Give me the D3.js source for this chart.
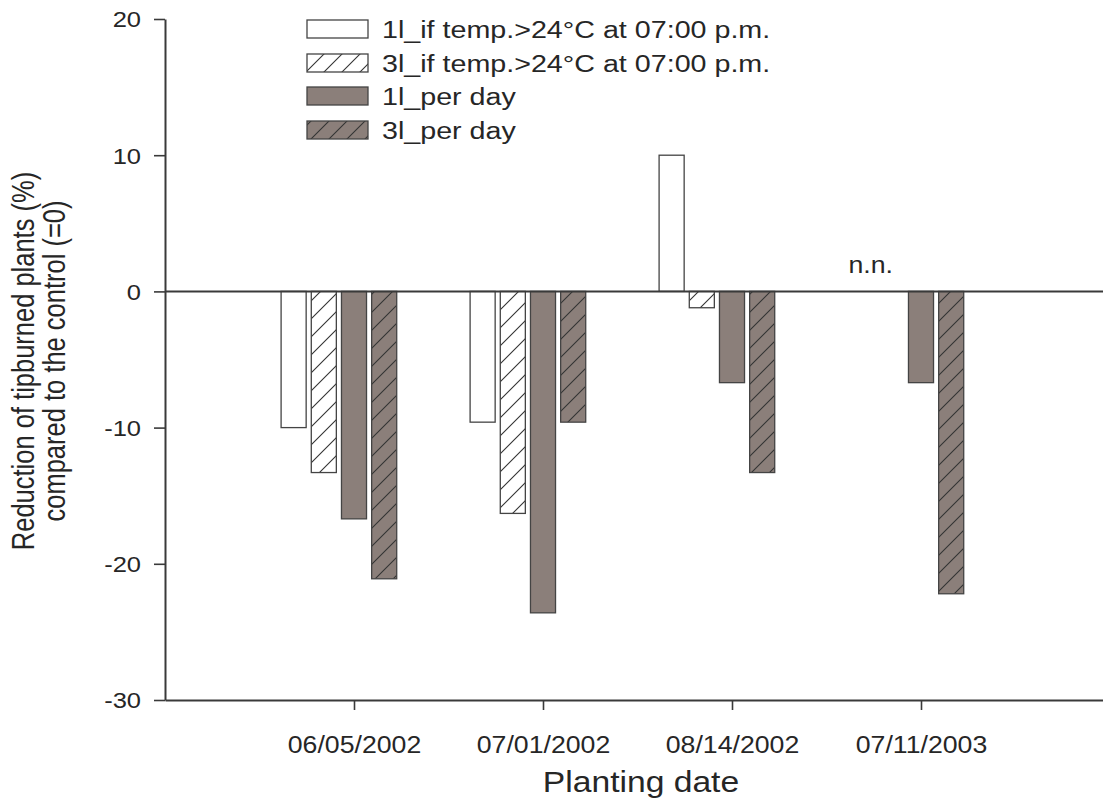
<!DOCTYPE html>
<html>
<head>
<meta charset="utf-8">
<script src="https://cdn.jsdelivr.net/npm/d3@7"></script>
<style>
  html, body { margin: 0; padding: 0; background: #fff; }
  svg { display: block; }
  text { font-family: "Liberation Sans", Arial, sans-serif; fill: #262626; }
</style>
</head>
<body>
<svg id="chart" width="1103" height="805"></svg>
<script>
// ---- data ----
const categories = ["06/05/2002", "07/01/2002", "08/14/2002", "07/11/2003"];
const seriesNames = [
  "1l_if temp.>24°C at 07:00 p.m.",
  "3l_if temp.>24°C at 07:00 p.m.",
  "1l_per day",
  "3l_per day"
];
const s1TempWhite = [-10, -9.6, 10, null];
const s2TempHatch = [-13.3, -16.3, -1.2, null];
const s3DayBrown  = [-16.7, -23.6, -6.7, -6.7];
const s4DayHatch  = [-21.1, -9.6, -13.3, -22.2];
const seriesValues = [s1TempWhite, s2TempHatch, s3DayBrown, s4DayHatch];
const yTicks = [-30, -20, -10, 0, 10, 20];
const noteCategory = "07/11/2003";
const noteText = "n.n.";
const xTitle = "Planting date";
const yTitleLines = ["Reduction of tipburned plants (%)", "compared to the control (=0)"];

// ---- style ----
const BROWN = "#8b7f7a";
const EDGE = "#444444";
const AXIS = "#3a3a3a";
const SX = 1.16; // horizontal text stretch

const svg = d3.select("#chart");
const defs = svg.append("defs");
function hatch(id, bg) {
  const p = defs.append("pattern").attr("id", id)
    .attr("patternUnits", "userSpaceOnUse").attr("width", 18).attr("height", 18);
  p.append("rect").attr("width", 18).attr("height", 18).attr("fill", bg);
  p.append("path").attr("d", "M-4.5,4.5 l9,-9 M0,18 l18,-18 M13.5,22.5 l9,-9")
    .attr("stroke", "#333").attr("stroke-width", 1.1);
}
hatch("hatchWhite", "#ffffff");
hatch("hatchBrown", BROWN);
const fills = ["#ffffff", "url(#hatchWhite)", BROWN, "url(#hatchBrown)"];

// ---- scales ----
const y = d3.scaleLinear().domain([-30, 20]).range([700, 19]);
const x = d3.scaleLinear().domain([0, categories.length + 1]).range([165, 1110]);
const catPos = (c) => x(categories.indexOf(c) + 1);
// five slots per category (fifth slot empty)
const slot = d3.scaleBand().domain(d3.range(5)).range([-72.9, 72.9]).paddingInner(0.17).paddingOuter(0);

// ---- bars ----
const barData = [];
seriesValues.forEach((vals, si) => {
  vals.forEach((v, ci) => {
    if (v !== null) barData.push({ si, cat: categories[ci], v });
  });
});
svg.append("g").selectAll("rect").data(barData).join("rect")
  .attr("x", d => catPos(d.cat) + slot(d.si))
  .attr("width", slot.bandwidth())
  .attr("y", d => Math.min(y(d.v), y(0)))
  .attr("height", d => Math.abs(y(d.v) - y(0)))
  .attr("fill", d => fills[d.si])
  .attr("stroke", EDGE).attr("stroke-width", 1.3);

// zero line
svg.append("line")
  .attr("x1", x(0)).attr("x2", x(categories.length + 1))
  .attr("y1", y(0)).attr("y2", y(0))
  .attr("stroke", AXIS).attr("stroke-width", 2);

// ---- axes ----
const yAxis = svg.append("g").attr("transform", `translate(${x(0)},0)`)
  .call(d3.axisLeft(y).tickValues(yTicks).tickSize(11).tickSizeOuter(0).tickFormat(d => String(d)));
yAxis.select(".domain").attr("stroke", AXIS).attr("stroke-width", 2);
yAxis.selectAll(".tick line").attr("stroke", AXIS).attr("stroke-width", 1.6);
yAxis.selectAll(".tick text")
  .attr("x", -24 / SX).attr("dy", "0.36em")
  .attr("transform", `scale(${SX},1)`)
  .style("font-size", "22px").style("fill", "#262626");

const xAxis = svg.append("g").attr("transform", `translate(0,${y(-30)})`)
  .call(d3.axisBottom(x).tickValues(d3.range(1, categories.length + 1))
    .tickSize(10).tickSizeOuter(0).tickPadding(27)
    .tickFormat(i => categories[i - 1]));
xAxis.select(".domain").attr("stroke", AXIS).attr("stroke-width", 2);
xAxis.selectAll(".tick line").attr("stroke", AXIS).attr("stroke-width", 1.6);
xAxis.selectAll(".tick text")
  .attr("transform", `scale(${SX},1)`)
  .style("font-size", "23px").style("fill", "#262626");

// ---- titles ----
svg.append("g").attr("transform", `translate(641,792) scale(${SX},1)`)
  .append("text").attr("text-anchor", "middle").style("font-size", "29px").text(xTitle);

const yt = svg.append("g");
[34, 65].forEach((bx, i) => {
  yt.append("g").attr("transform", `translate(${bx},361) scale(1.2,1) rotate(-90)`)
    .append("text").attr("text-anchor", "middle").style("font-size", "25.5px").text(yTitleLines[i]);
});

// ---- note ----
const noteX = catPos(noteCategory) + (slot(0) + slot(1) + slot.bandwidth()) / 2 - 5;
svg.append("g").attr("transform", `translate(${noteX},273) scale(${SX},1)`)
  .append("text").attr("text-anchor", "middle").style("font-size", "23px").text(noteText);

// ---- legend ----
const legend = svg.append("g");
const rowY = [29, 63, 96, 130];
seriesNames.forEach((name, i) => {
  legend.append("rect")
    .attr("x", 307).attr("y", rowY[i] - 9).attr("width", 61).attr("height", 18)
    .attr("fill", fills[i]).attr("stroke", EDGE).attr("stroke-width", 1.3);
  legend.append("g").attr("transform", `translate(382,${rowY[i]}) scale(1.17,1)`)
    .append("text").attr("dy", "0.36em").style("font-size", "24.5px").text(name);
});
</script>
</body>
</html>
